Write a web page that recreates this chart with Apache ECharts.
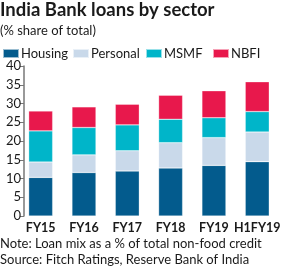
<!DOCTYPE html>
<html><head><meta charset="utf-8">
<script src="https://cdn.jsdelivr.net/npm/echarts@6/dist/echarts.min.js"></script>
<style>html,body{margin:0;padding:0;background:#fff}#c{width:283px;height:268px}</style>
</head><body><div id="c"></div>
<script>
const categories = ['FY15','FY16','FY17','FY18','FY19','H1FY19'];
const housing  = [10.3, 11.6, 12.0, 12.8, 13.5, 14.5];
const personal = [4.1, 4.7, 5.4, 6.75, 7.4, 7.9];
const msmf     = [8.3, 7.3, 6.9, 6.25, 5.3, 5.45];
const nbfi     = [5.3, 5.5, 5.5, 6.4, 7.2, 7.95];
const yTicks = [0, 5, 10, 15, 20, 25, 30, 35, 40];
const seriesNames = ['Housing','Personal','MSMF','NBFI'];
const colors = ['#035b8d','#c9d9ea','#00b5c9','#e8184c'];
const FONT = 'Lato';
const chart = echarts.init(document.getElementById('c'), null, {renderer:'canvas'});
const legendX = [2, 72, 145, 212];
chart.setOption({
  animation:false,
  color: colors,
  title:[
    {text:'India Bank loans by sector', left:0, top:1, padding:0, textStyle:{fontFamily:FONT, fontWeight:'bold', fontSize:18.5, color:'#1a1a1a'}},
    {text:'(% share of total)', left:0, top:24, padding:0, textStyle:{fontFamily:FONT, fontWeight:'normal', fontSize:13, color:'#1a1a1a'}},
    {text:'Note: Loan mix as a % of total non-food credit', left:0, top:237, padding:0, textStyle:{fontFamily:FONT, fontWeight:'normal', fontSize:13, color:'#1a1a1a'}},
    {text:'Source: Fitch Ratings, Reserve Bank of India', left:0, top:253, padding:0, textStyle:{fontFamily:FONT, fontWeight:'normal', fontSize:13, color:'#1a1a1a'}}
  ],
  legend: seriesNames.map((n,i)=>({
    data:[n], left:legendX[i], top:47, itemWidth:16, itemHeight:9, itemGap:0,
    icon:'rect', padding:0,
    textStyle:{fontFamily:FONT, fontSize:13, color:'#1a1a1a', padding:[0,0,0,-3]}
  })),
  grid:{left:19, right:-2, top:66, bottom:52, containLabel:false},
  xAxis:{type:'category', data:categories,
    axisLine:{show:false}, axisTick:{show:false},
    axisLabel:{interval:0, fontFamily:FONT, fontSize:12.5, fontWeight:'bold', color:'#1a1a1a', margin:5}},
  yAxis:{type:'value', min:yTicks[0], max:yTicks[yTicks.length-1], interval:5, offset:-5,
    splitLine:{show:false},
    axisLine:{show:true, lineStyle:{color:'#777', width:1.5}},
    axisTick:{show:true, length:4, lineStyle:{color:'#777'}},
    axisLabel:{fontFamily:FONT, fontSize:13, color:'#1a1a1a', margin:3}},
  series:[housing, personal, msmf, nbfi].map((d,i)=>({
    name:seriesNames[i], type:'bar', stack:'t', data:d, barWidth:24,
    itemStyle:{color:colors[i], borderColor:'rgba(255,255,255,0.6)', borderWidth:0.5}
  }))
});
</script></body></html>
